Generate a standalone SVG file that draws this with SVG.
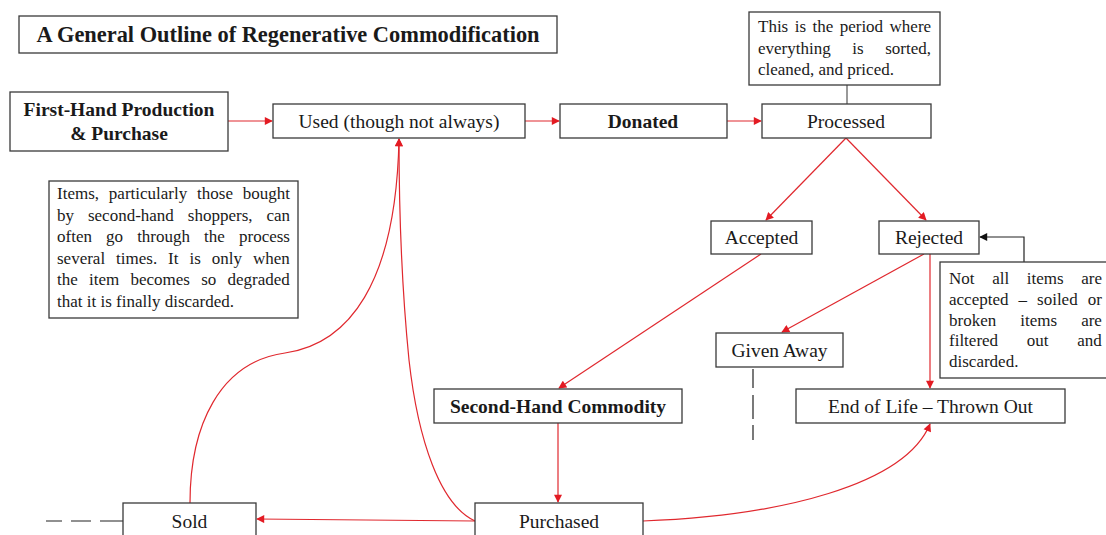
<svg xmlns="http://www.w3.org/2000/svg" width="1106" height="535" viewBox="0 0 1106 535">
<style>
.box{fill:#fff;stroke:#3a3a3a;stroke-width:1.3}
.lbl{font-size:19.5px;text-anchor:middle}
.b{font-weight:bold}
.note{font-size:17px}
.r{fill:none;stroke:#e0282e;stroke-width:1.2}
.k{fill:none;stroke:#222;stroke-width:1.2}
.gl{fill:none;stroke:#555;stroke-width:1.2}
.dash{fill:none;stroke:#222;stroke-width:1.2}
</style>
<defs>
<marker id="ar" viewBox="0 0 10 10" refX="9" refY="5" markerWidth="9" markerHeight="8" markerUnits="userSpaceOnUse" orient="auto"><path d="M0,0 L10,5 L0,10 z" fill="#e31b23"/></marker>
<marker id="ak" viewBox="0 0 10 10" refX="9" refY="5" markerWidth="9" markerHeight="8" markerUnits="userSpaceOnUse" orient="auto"><path d="M0,0 L10,5 L0,10 z" fill="#111"/></marker>
</defs>
<rect width="1106" height="535" fill="#fff"/>

<g id="connectors">
<line class="r" x1="228" y1="121" x2="272" y2="121" marker-end="url(#ar)"/>
<line class="r" x1="525" y1="121" x2="559" y2="121" marker-end="url(#ar)"/>
<line class="r" x1="727" y1="121" x2="761" y2="121" marker-end="url(#ar)"/>
<line class="gl" x1="847" y1="85" x2="847" y2="104"/>
<line class="r" x1="846" y1="138" x2="766" y2="220" marker-end="url(#ar)"/>
<line class="r" x1="846" y1="138" x2="926" y2="220" marker-end="url(#ar)"/>
<line class="r" x1="761" y1="254" x2="559" y2="388" marker-end="url(#ar)"/>
<line class="r" x1="924" y1="254" x2="782" y2="332" marker-end="url(#ar)"/>
<line class="r" x1="930" y1="254" x2="930" y2="388" marker-end="url(#ar)"/>
<line class="r" x1="558" y1="423" x2="558" y2="502" marker-end="url(#ar)"/>
<line class="r" x1="475" y1="521" x2="257" y2="519" marker-end="url(#ar)"/>
<path class="r" d="M643,521 C780,516 905,485 930,424" marker-end="url(#ar)"/>
<path class="r" d="M190,503 C190,425 220,362 285,353 C348,344 396,285 399,139" marker-end="url(#ar)"/>
<path class="r" d="M475,521 C440,505 418,440 409,360 C402,290 399,220 399,139" marker-end="url(#ar)"/>
<polyline class="k" points="1024,262 1024,237 980,237" marker-end="url(#ak)"/>
<line class="dash" x1="46" y1="521" x2="123" y2="521" stroke-dasharray="16,9,20,9,24"/>
<line class="dash" x1="753" y1="369" x2="753" y2="440" stroke-dasharray="19,7,24,6,15"/>
</g>

<g font-family="Liberation Serif, DejaVu Serif, serif" fill="#1a1a1a">
<g id="title">
<rect class="box" x="19" y="16" width="538" height="37"/>
<text class="lbl b" x="288" y="42" style="font-size:22.4px">A General Outline of Regenerative Commodification</text>
</g>

<g id="first-hand">
<rect class="box" x="10" y="92" width="218" height="59"/>
<text class="lbl b" x="119" y="116">First-Hand Production</text>
<text class="lbl b" x="119" y="140">&amp; Purchase</text>
</g>

<g id="used">
<rect class="box" x="273" y="104" width="252" height="34"/>
<text class="lbl" x="399" y="128">Used (though not always)</text>
</g>

<g id="donated">
<rect class="box" x="560" y="104" width="167" height="34"/>
<text class="lbl b" x="643" y="128">Donated</text>
</g>

<g id="processed">
<rect class="box" x="762" y="104" width="169" height="34"/>
<text class="lbl" x="846" y="128">Processed</text>
</g>

<g id="note-processed">
<rect class="box" x="749" y="12" width="191" height="73"/>
<text class="note" x="758" y="32" word-spacing="2.2">This is the period where</text>
<text class="note" x="758" y="54" word-spacing="17.3">everything is sorted,</text>
<text class="note" x="758" y="75">cleaned, and priced.</text>
</g>

<g id="accepted">
<rect class="box" x="711" y="221" width="101" height="33"/>
<text class="lbl" x="761.5" y="244">Accepted</text>
</g>

<g id="rejected">
<rect class="box" x="879" y="221" width="100" height="33"/>
<text class="lbl" x="929" y="244">Rejected</text>
</g>

<g id="note-items">
<rect class="box" x="49" y="181" width="249" height="137"/>
<text class="note" x="57" y="199" word-spacing="5.6">Items, particularly those bought</text>
<text class="note" x="57" y="220.5" word-spacing="9.7">by second-hand shoppers, can</text>
<text class="note" x="57" y="242" word-spacing="9.85">often go through the process</text>
<text class="note" x="57" y="263.5" word-spacing="6.7">several times. It is only when</text>
<text class="note" x="57" y="285" word-spacing="7.0">the item becomes so degraded</text>
<text class="note" x="57" y="306.5">that it is finally discarded.</text>
</g>

<g id="note-rejected">
<rect class="box" x="940" y="262" width="175" height="116"/>
<text class="note" x="949" y="284" word-spacing="13.4">Not all items are</text>
<text class="note" x="949" y="305" word-spacing="5.8">accepted – soiled or</text>
<text class="note" x="949" y="326" word-spacing="19.8">broken items are</text>
<text class="note" x="949" y="346" word-spacing="24.5">filtered out and</text>
<text class="note" x="949" y="367">discarded.</text>
</g>

<g id="given-away">
<rect class="box" x="716" y="333" width="127" height="34"/>
<text class="lbl" x="779.5" y="356.5">Given Away</text>
</g>

<g id="second-hand">
<rect class="box" x="434" y="389" width="248" height="34"/>
<text class="lbl b" x="558" y="412.5">Second-Hand Commodity</text>
</g>

<g id="end-of-life">
<rect class="box" x="796" y="389" width="269" height="34"/>
<text class="lbl" x="930.5" y="412.5">End of Life – Thrown Out</text>
</g>

<g id="sold">
<rect class="box" x="123" y="503" width="133" height="40"/>
<text class="lbl" x="189.5" y="528">Sold</text>
</g>

<g id="purchased">
<rect class="box" x="475" y="503" width="168" height="40"/>
<text class="lbl" x="559" y="528">Purchased</text>
</g>
</g>
</svg>
